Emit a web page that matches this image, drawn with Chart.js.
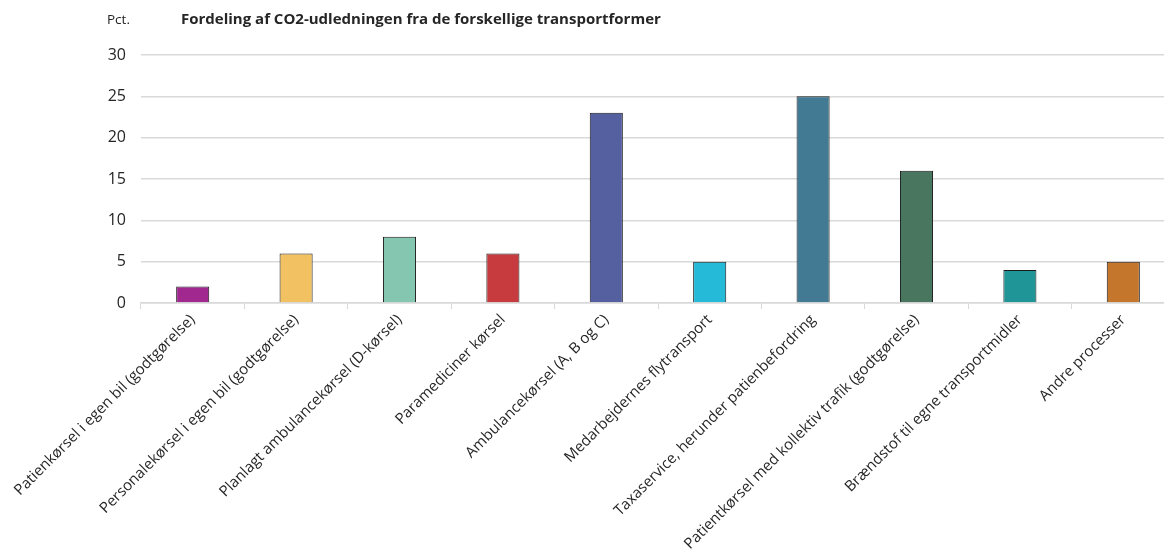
<!DOCTYPE html>
<html>
<head>
<meta charset="utf-8">
<script src="https://cdn.jsdelivr.net/npm/chart.js@4/dist/chart.umd.min.js"></script>
<style>
    html, body { margin: 0; padding: 0; background: #fff; overflow: hidden; }
    #wrap { width: 1176px; height: 560px; }
</style>
</head>
<body>
<div id="wrap"><canvas id="co2Chart"></canvas></div>
<script>
// Data
const categories = [
    'Patienkørsel i egen bil (godtgørelse)',
    'Personalekørsel i egen bil (godtgørelse)',
    'Planlagt ambulancekørsel (D-kørsel)',
    'Paramediciner kørsel',
    'Ambulancekørsel (A, B og C)',
    'Medarbejdernes flytransport',
    'Taxaservice, herunder patienbefordring',
    'Patientkørsel med kollektiv trafik (godtgørelse)',
    'Brændstof til egne transportmidler',
    'Andre processer'
];
const shares = [2, 6, 8, 6, 23, 5, 25, 16, 4, 5];
const barColors = ['#a0288f', '#f2c161', '#84c6af', '#c73b3e', '#5560a0', '#24bad8', '#417a92', '#48765e', '#1f9597', '#c4762d'];
const yTicks = [0, 5, 10, 15, 20, 25, 30];

const FONT = '"Open Sans", Calibri, sans-serif';
const TEXT = '#262626';

// title + unit label drawn on the canvas
const headerPlugin = {
    id: 'header',
    afterDraw(chart) {
        const ctx = chart.ctx;
        ctx.save();
        ctx.fillStyle = TEXT;
        ctx.textBaseline = 'alphabetic';
        ctx.font = '13.5px ' + FONT;
        ctx.fillText('Pct.', 107, 24);
        ctx.font = 'bold 15px ' + FONT;
        ctx.fillText('Fordeling af CO2-udledningen fra de forskellige transportformer', 181, 24);
        ctx.restore();
    }
};

function initChart() {
    const ctx = document.getElementById('co2Chart');

    new Chart(ctx, {
        type: 'bar',
        data: {
            labels: categories,
            datasets: [{
                data: shares,
                backgroundColor: barColors,
                borderColor: '#1a1a1a',
                borderWidth: 1,
                borderSkipped: 'bottom',
                categoryPercentage: 1,
                barPercentage: 0.32
            }]
        },
        options: {
            responsive: true,
            maintainAspectRatio: false,
            animation: false,
            layout: { padding: { top: 55, left: 0, right: 1, bottom: 0 } },
            plugins: {
                legend: { display: false },
                tooltip: { enabled: false }
            },
            scales: {
                x: {
                    grid: {
                        display: true,
                        drawOnChartArea: false,
                        color: '#d9d9d9',
                        tickLength: 6
                    },
                    border: { display: true, color: '#d9d9d9', width: 1.5 },
                    ticks: {
                        color: TEXT,
                        font: { family: FONT, size: 15 },
                        maxRotation: 45,
                        minRotation: 45,
                        autoSkip: false,
                        padding: 2
                    },
                    afterFit: (scale) => { scale.height = 257; }
                },
                y: {
                    min: 0,
                    max: 30,
                    afterBuildTicks: (scale) => {
                        scale.ticks = yTicks.map(v => ({ value: v }));
                    },
                    grid: { color: '#d9d9d9', lineWidth: 1.5, drawTicks: false },
                    border: { display: false },
                    ticks: {
                        color: TEXT,
                        font: { family: FONT, size: 16 },
                        padding: 15
                    },
                    afterFit: (scale) => { scale.width = 141; }
                }
            }
        },
        plugins: [headerPlugin]
    });
}

initChart();
</script>
</body>
</html>
